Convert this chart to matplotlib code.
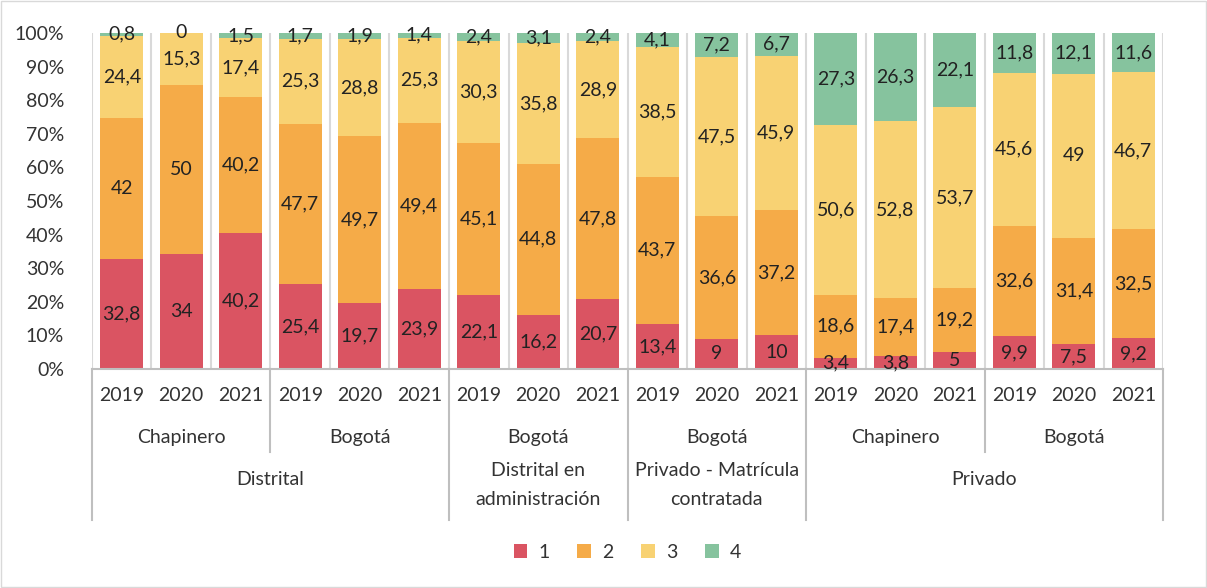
import numpy as np
import matplotlib.pyplot as plt
import matplotlib.transforms as mtransforms
from matplotlib.patches import Rectangle

plt.rcParams['font.family'] = ['Lato', 'DejaVu Sans']

years = ['2019', '2020', '2021'] * 6
level2 = ['Chapinero', 'Bogotá', 'Bogotá', 'Bogotá', 'Chapinero', 'Bogotá']
level3 = ['Distrital', 'Distrital en\nadministración', 'Privado - Matrícula\ncontratada', 'Privado']
level3_span = [(0, 6), (6, 9), (9, 12), (12, 18)]

s1 = [32.8, 34, 40.2, 25.4, 19.7, 23.9, 22.1, 16.2, 20.7, 13.4, 9, 10, 3.4, 3.8, 5, 9.9, 7.5, 9.2]
s2 = [42, 50, 40.2, 47.7, 49.7, 49.4, 45.1, 44.8, 47.8, 43.7, 36.6, 37.2, 18.6, 17.4, 19.2, 32.6, 31.4, 32.5]
s3 = [24.4, 15.3, 17.4, 25.3, 28.8, 25.3, 30.3, 35.8, 28.9, 38.5, 47.5, 45.9, 50.6, 52.8, 53.7, 45.6, 49, 46.7]
s4 = [0.8, 0, 1.5, 1.7, 1.9, 1.4, 2.4, 3.1, 2.4, 4.1, 7.2, 6.7, 27.3, 26.3, 22.1, 11.8, 12.1, 11.6]
series = [s1, s2, s3, s4]
names = ['1', '2', '3', '4']
colors = ['#DA5462', '#F5AB48', '#F8D273', '#86C39E']

data = np.array(series, dtype=float)
pct = data / data.sum(axis=0) * 100

fs = 14
fig = plt.figure(figsize=(12.07, 5.88), dpi=100)
ax = fig.add_axes([0.0762, 0.3724, 0.8874, 0.5715])
x = np.arange(len(years))

# vertical gridlines between categories
for b in np.arange(-0.5, len(years) + 0.5, 1):
    ax.axvline(b, color='#D9D9D9', lw=1.5, zorder=0)

bottom = np.zeros(len(years))
for k in range(4):
    ax.bar(x, pct[k], 0.72, bottom=bottom, color=colors[k], label=names[k], zorder=2)
    for i in range(len(years)):
        lbl = ('%g' % data[k, i]).replace('.', ',')
        ax.text(x[i], bottom[i] + pct[k, i] / 2, lbl, ha='center', va='center',
                fontsize=fs, color='#222222', zorder=3)
    bottom += pct[k]

ax.set_xlim(-0.5, len(years) - 0.5)
ax.set_ylim(0, 100)
ax.set_yticks(np.arange(0, 101, 10))
ax.set_yticklabels(['%d%%' % v for v in range(0, 101, 10)], fontsize=fs, color='#333333')
ax.tick_params(axis='y', length=0, pad=20)
ax.set_xticks([])
for s in ['top', 'right', 'left']:
    ax.spines[s].set_visible(False)
ax.spines['bottom'].set_color('#BFBFBF')
ax.spines['bottom'].set_linewidth(1.5)

trans = mtransforms.blended_transform_factory(ax.transData, ax.transAxes)
for i, y in enumerate(years):
    ax.text(i, -0.08, y, ha='center', va='center', fontsize=fs, color='#333333', transform=trans)
for g, name in enumerate(level2):
    ax.text(g * 3 + 1, -0.205, name, ha='center', va='center', fontsize=fs, color='#333333', transform=trans)
for (a, b), name in zip(level3_span, level3):
    ax.text((a + b - 1) / 2, -0.328 if '\n' not in name else -0.345, name, ha='center', va='center',
            fontsize=fs, color='#333333', transform=trans, linespacing=1.85)

# separators of the category levels
full = [0, 6, 9, 12, 18]
for g in range(7):
    pos = g * 3 - 0.5
    y_end = -0.449 if g * 3 in full else -0.247
    ax.plot([pos, pos], [0, y_end], color='#BFBFBF', lw=1.5, transform=trans, clip_on=False)

ax.legend(loc='center', bbox_to_anchor=(0.5, -0.545), ncol=4, frameon=False, fontsize=fs,
          handlelength=0.7, handleheight=0.7, handletextpad=0.6, columnspacing=1.4,
          labelcolor='#333333')

fig.patches.append(Rectangle((0.001, 0.001), 0.998, 0.998, transform=fig.transFigure,
                             fill=False, edgecolor='#D9D9D9', lw=1))

fig.savefig('out.png', dpi=100)
